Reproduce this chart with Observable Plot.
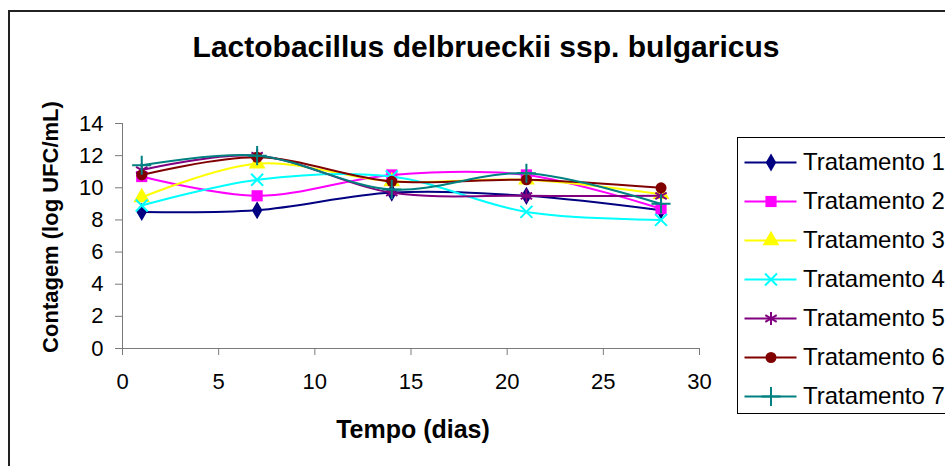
<!DOCTYPE html>
<html><head><meta charset="utf-8">
<script src="https://cdn.jsdelivr.net/npm/d3@7"></script>
<script src="https://cdn.jsdelivr.net/npm/@observablehq/plot@0.6"></script>
<style>
html,body{margin:0;padding:0;background:#fff;overflow:hidden;width:945px;height:466px;}
#wrap{position:relative;width:945px;height:466px;font-family:"Liberation Sans",Arial,sans-serif;overflow:hidden;}
#frame{position:absolute;left:8px;top:10px;width:1000px;height:500px;border:2px solid #222;box-sizing:border-box;}
#chart{position:absolute;left:0;top:0;}
#legend{position:absolute;left:737px;top:137px;width:240px;height:277px;border:1.5px solid #000;box-sizing:border-box;background:#fff;}
#legend svg, #chart svg{display:block;}
</style></head><body>
<div id="wrap"><div id="frame"></div><div id="chart"></div><div id="legend"></div></div>
<script>
// ---- data ----
const days = [1, 7, 14, 21, 28];
const seriesNames = ["Tratamento 1","Tratamento 2","Tratamento 3","Tratamento 4","Tratamento 5","Tratamento 6","Tratamento 7"];
const t1 = [8.5, 8.6, 9.7, 9.5, 8.6];
const t2 = [10.7, 9.5, 10.8, 10.8, 8.7];
const t3 = [9.4, 11.5, 10.4, 10.5, 9.6];
const t4 = [8.9, 10.5, 10.7, 8.5, 8.0];
const t5 = [11.1, 12.0, 9.7, 9.5, 9.5];
const t6 = [10.8, 11.9, 10.4, 10.5, 10.0];
const t7 = [11.4, 12.0, 9.9, 10.9, 9.0];
const seriesValues = [t1, t2, t3, t4, t5, t6, t7];
const xTicks = [0, 5, 10, 15, 20, 25, 30];
const yTicks = [0, 2, 4, 6, 8, 10, 12, 14];
const titleText = "Lactobacillus delbrueckii ssp. bulgaricus";
const xLabel = "Tempo (dias)";
const yLabel = "Contagem (log UFC/mL)";

// ---- styles ----
const colors = ["#000080","#FF00FF","#FFFF00","#00FFFF","#800080","#800000","#008080"];
const symbols = ["diamond","square","triangle","times","asterisk","circle","plus"];
const filled = [true, true, true, false, false, true, false];
const radii = [5.5, 6.3, 6.2, 5.5, 6.2, 5.5, 6.2];

const rows = [];
seriesValues.forEach((vals, i) => vals.forEach((v, j) => rows.push({series: seriesNames[i], day: days[j], value: v})));

function dotOpts(i, extra) {
  const o = {symbol: () => symbols[i], r: radii[i], ...extra};
  if (filled[i]) { o.fill = colors[i]; o.stroke = "none"; }
  else { o.stroke = colors[i]; o.fill = "none"; o.strokeWidth = 2; }
  return o;
}

const seriesMarks = [];
seriesNames.forEach((name, i) => {
  const d = rows.filter(r => r.series === name);
  seriesMarks.push(Plot.line(d, {x: "day", y: "value", stroke: colors[i], strokeWidth: 2, curve: "catmull-rom"}));
  seriesMarks.push(Plot.dot(d, dotOpts(i, {x: "day", y: "value"})));
});

const axisColor = "#7a7a7a";
const chart = Plot.plot({
  width: 945, height: 466,
  marginLeft: 122, marginRight: 246, marginTop: 123, marginBottom: 118,
  style: {fontFamily: '"Liberation Sans", Arial, sans-serif', fontSize: "22px", color: "#000", background: "transparent"},
  x: {domain: [0, 30]},
  y: {domain: [0, 14]},
  marks: [
    Plot.axisX({ticks: xTicks, tickSize: 7, tickPadding: 18, stroke: axisColor, label: null, fontSize: 22}),
    Plot.axisY({ticks: yTicks, tickSize: 7, tickPadding: 12, stroke: axisColor, label: null, fontSize: 22}),
    Plot.ruleY([0], {stroke: axisColor}),
    Plot.ruleX([0], {stroke: axisColor}),
    ...seriesMarks,
    Plot.text([titleText], {frameAnchor: "top", dx: 75, dy: -88, fontWeight: "bold", fontSize: 30, fill: "#000"}),
    Plot.text([xLabel], {frameAnchor: "bottom", dx: 2, dy: 89, fontWeight: "bold", fontSize: 25, fill: "#000"}),
    Plot.text([yLabel], {frameAnchor: "left", textAnchor: "middle", rotate: -90, dx: -72, dy: -9, fontWeight: "bold", fontSize: 22, fill: "#000"})
  ]
});
document.getElementById("chart").appendChild(chart);

// ---- legend ----
const legendMarks = [];
seriesNames.forEach((name, i) => {
  legendMarks.push(Plot.ruleY([name], {y: d => d, x1: 0, x2: 1, stroke: colors[i], strokeWidth: 2}));
  legendMarks.push(Plot.dot([name], dotOpts(i, {x: () => 0.5, y: d => d})));
});
legendMarks.push(Plot.text(seriesNames, {x: () => 1, y: d => d, text: d => d, dx: 6, textAnchor: "start", fontSize: 24, fill: "#000"}));
const legend = Plot.plot({
  width: 237, height: 274,
  marginLeft: 6.5, marginRight: 178.5, marginTop: 21.5, marginBottom: 14.5,
  style: {fontFamily: '"Liberation Sans", Arial, sans-serif', background: "transparent", overflow: "visible"},
  x: {domain: [0, 1], axis: null},
  y: {type: "point", domain: seriesNames, padding: 0, axis: null},
  marks: legendMarks
});
document.getElementById("legend").appendChild(legend);
</script>
</body></html>
